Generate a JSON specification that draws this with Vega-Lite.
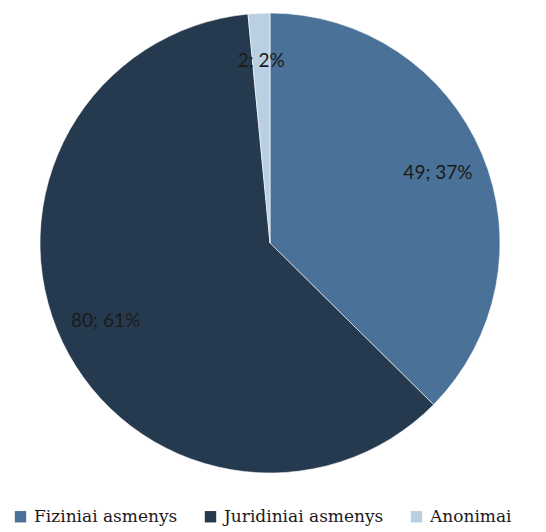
{
  "$schema": "https://vega.github.io/schema/vega-lite/v6.json",
  "autosize": "none",
  "padding": {"left": 0, "top": 0, "right": 6, "bottom": 46},
  "width": 540,
  "height": 486,
  "background": "white",
  "data": {
    "values": [
      {"grupe": "Fiziniai asmenys", "kiekis": 49, "label": "49; 37%", "ord": 1},
      {"grupe": "Juridiniai asmenys", "kiekis": 80, "label": "80; 61%", "ord": 2},
      {"grupe": "Anonimai", "kiekis": 2, "label": "2; 2%", "ord": 3}
    ]
  },
  "encoding": {
    "theta": {"field": "kiekis", "type": "quantitative", "stack": true},
    "order": {"field": "ord", "type": "quantitative"}
  },
  "layer": [
    {
      "mark": {"type": "arc", "outerRadius": 230, "stroke": "#ffffff", "strokeWidth": 0.6},
      "encoding": {
        "color": {
          "field": "grupe",
          "type": "nominal",
          "sort": ["Fiziniai asmenys", "Juridiniai asmenys", "Anonimai"],
          "scale": {
            "domain": ["Fiziniai asmenys", "Juridiniai asmenys", "Anonimai"],
            "range": ["#4a7197", "#253a4f", "#b9d0e3"]
          },
          "legend": {
            "title": null,
            "orient": "none",
            "direction": "horizontal",
            "legendX": 12,
            "legendY": 508,
            "symbolType": "square",
            "symbolSize": 130,
            "symbolStrokeWidth": 0,
            "labelFont": "DejaVu Serif",
            "labelFontSize": 17,
            "labelColor": "#1a1a1a",
            "labelOffset": 5,
            "columnPadding": 24
          }
        }
      }
    },
    {
      "mark": {"type": "text", "radius": 182, "font": "Lato", "fontSize": 19, "color": "#1a1a1a"},
      "encoding": {
        "text": {"field": "label", "type": "nominal"}
      }
    }
  ]
}
